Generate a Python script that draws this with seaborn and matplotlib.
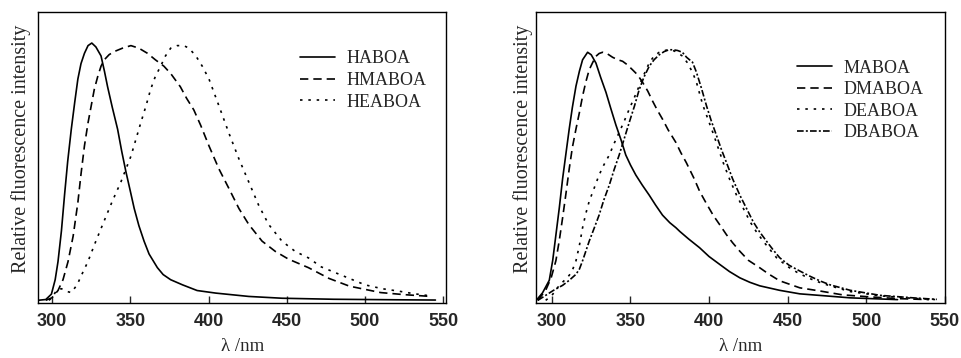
import numpy as np
import pandas as pd
import matplotlib
matplotlib.use("Agg")
import matplotlib.pyplot as plt
import seaborn as sns

# left panel: wavelength (nm) / relative intensity
haboa_x = [291, 296, 299.6, 302, 303.8, 306, 308, 310, 312.3, 314.5, 316.5, 318.5, 320.7, 323, 325.4, 328, 331.3,
           333.5, 335.5, 338.5, 341.9, 344.5, 347.2, 350, 352.5, 355.5, 358.8, 362, 367.3, 371, 375.8, 383.4,
           392.7, 404.6, 425.7, 447, 480, 520, 545]
haboa_y = [0, 0.003, 0.024, 0.08, 0.15, 0.27, 0.41, 0.54, 0.665, 0.77, 0.86, 0.92, 0.96, 0.99, 1.0, 0.985, 0.95,
           0.89, 0.83, 0.75, 0.665, 0.58, 0.50, 0.425, 0.357, 0.29, 0.23, 0.18, 0.127, 0.10, 0.08, 0.06,
           0.038, 0.028, 0.015, 0.008, 0.004, 0.002, 0.001]

hmaboa_x = [296, 300, 303.8, 307, 310.2, 313.5, 316.5, 318.5, 320.7, 323, 325, 327, 329.2, 331.3, 333.4, 336.5,
            339.8, 345, 350.4, 355.5, 361, 366, 371.5, 376, 382, 386, 390.6, 395, 400.3, 406.7, 413, 419.4, 425.7,
            434.2, 442.7, 451.1, 463.8, 477, 490, 510, 525, 542]
hmaboa_y = [0, 0.01, 0.038, 0.08, 0.15, 0.25, 0.38, 0.49, 0.60, 0.69, 0.755, 0.82, 0.87, 0.91, 0.935, 0.955,
            0.967, 0.98, 0.99, 0.98, 0.96, 0.935, 0.91, 0.88, 0.83, 0.785, 0.74, 0.68, 0.60, 0.51, 0.435, 0.357,
            0.295, 0.23, 0.19, 0.16, 0.127, 0.085, 0.055, 0.03, 0.022, 0.015]

heaboa_x = [298, 300, 303, 306, 309, 312.3, 316, 319, 322.9, 328, 333.4, 338.5, 344, 350.4, 356.7, 360, 363, 366,
            369.4, 372.5, 375.8, 380, 384.2, 387.5, 391.9, 396, 400.3, 406.7, 413, 419.4, 425.7, 432, 438.4,
            446.9, 455.4, 463.8, 472, 480, 490, 500, 511, 521, 532, 542]
heaboa_y = [0, 0.01, 0.04, 0.045, 0.035, 0.03, 0.06, 0.10, 0.15, 0.23, 0.31, 0.385, 0.46, 0.56, 0.69, 0.755, 0.82,
            0.87, 0.91, 0.95, 0.98, 0.99, 0.99, 0.98, 0.95, 0.91, 0.86, 0.755, 0.65, 0.55, 0.46, 0.37, 0.295,
            0.23, 0.19, 0.165, 0.13, 0.11, 0.085, 0.06, 0.045, 0.036, 0.025, 0.017]

# right panel
maboa_x = [290, 294, 298.3, 300.5, 302.5, 304.7, 306.8, 309, 311, 313, 315.3, 317.5, 319.5, 322.7, 325, 328, 331,
           334.4, 337.5, 340.7, 344, 347, 350, 353.4, 357.5, 361.9, 366, 370.4, 375, 378.9, 381.4, 387, 394, 400,
           406.9, 413, 419.6, 426, 432.3, 445, 457.8, 470, 490, 520]
maboa_y = [0, 0.03, 0.08, 0.16, 0.26, 0.37, 0.486, 0.59, 0.684, 0.77, 0.855, 0.915, 0.96, 0.99, 0.98, 0.947, 0.89,
           0.83, 0.765, 0.70, 0.64, 0.58, 0.54, 0.50, 0.46, 0.42, 0.38, 0.34, 0.31, 0.29, 0.275, 0.245, 0.21,
           0.175, 0.143, 0.115, 0.09, 0.072, 0.058, 0.04, 0.026, 0.02, 0.01, 0.003]

dmaboa_x = [291, 296, 299.5, 302.5, 304.7, 306.8, 309, 311, 313, 315.3, 317.5, 319.5, 321.5, 323.7, 326, 328, 330,
            332.2, 335, 338.6, 342, 345, 348, 351.3, 354.5, 357.7, 361, 364, 367, 370.4, 374, 378.9, 382, 385.5,
            390.5, 394.1, 398, 402.6, 407, 411.1, 415, 419.6, 425, 432.3, 438, 445, 457.8, 470, 485, 500, 520, 540]
dmaboa_y = [0, 0.04, 0.09, 0.158, 0.24, 0.33, 0.43, 0.525, 0.61, 0.684, 0.75, 0.815, 0.87, 0.92, 0.95, 0.974,
            0.985, 0.99, 0.985, 0.97, 0.96, 0.954, 0.94, 0.92, 0.90, 0.87, 0.835, 0.796, 0.76, 0.723, 0.68, 0.63,
            0.59, 0.55, 0.486, 0.434, 0.39, 0.34, 0.30, 0.262, 0.23, 0.196, 0.16, 0.13, 0.105, 0.078, 0.05, 0.038,
            0.022, 0.015, 0.007, 0.003]

deaboa_x = [296, 300, 304.7, 308, 311, 313, 315.3, 317.5, 319.5, 321.5, 323.7, 327, 330, 333, 336.5, 339.5, 342.8,
            346, 349.2, 352.5, 355.5, 358.5, 361.9, 365, 368.3, 371.5, 374.6, 378, 383.1, 386, 389.5, 392, 396,
            399.5, 403, 406, 409, 413, 417.5, 422, 426, 430, 434.5, 443, 450, 456, 463, 468.5, 477, 490, 509, 530,
            545]
deaboa_y = [0, 0.02, 0.06, 0.08, 0.10, 0.12, 0.158, 0.22, 0.29, 0.345, 0.395, 0.45, 0.50, 0.54, 0.58, 0.625, 0.67,
            0.715, 0.763, 0.81, 0.855, 0.90, 0.947, 0.975, 0.99, 0.997, 1.0, 0.995, 0.975, 0.95, 0.91, 0.87, 0.78,
            0.72, 0.66, 0.605, 0.55, 0.485, 0.42, 0.365, 0.315, 0.275, 0.236, 0.17, 0.135, 0.112, 0.09, 0.076,
            0.058, 0.035, 0.018, 0.008, 0.003]

dbaboa_x = [291, 296, 301, 306.8, 311, 315.3, 317.5, 319.5, 321.5, 323.7, 327, 330, 333, 336.5, 339.5, 342.8, 346,
            349.2, 352.5, 355.5, 358.5, 361.9, 365, 368.3, 371.5, 374.6, 377.2, 380, 383, 385.7, 389.5, 392, 395,
            398.4, 401.5, 404.8, 408, 411.1, 415, 419.6, 424, 428, 432, 436.6, 441, 445, 451, 457.8, 464, 470.5,
            477, 490, 509, 530, 545]
dbaboa_y = [0, 0.02, 0.04, 0.06, 0.08, 0.104, 0.125, 0.158, 0.195, 0.236, 0.29, 0.34, 0.40, 0.46, 0.52, 0.58,
            0.645, 0.71, 0.775, 0.84, 0.89, 0.934, 0.96, 0.98, 0.993, 1.0, 1.0, 0.997, 0.99, 0.97, 0.95, 0.91,
            0.85, 0.776, 0.715, 0.657, 0.60, 0.55, 0.485, 0.42, 0.365, 0.315, 0.275, 0.236, 0.20, 0.17, 0.14,
            0.117, 0.097, 0.078, 0.062, 0.04, 0.02, 0.01, 0.004]

left_names = ["HABOA", "HMABOA", "HEABOA"]
right_names = ["MABOA", "DMABOA", "DEABOA", "DBABOA"]


def long_df(names, xs, ys):
    parts = []
    for n, x, y in zip(names, xs, ys):
        parts.append(pd.DataFrame({"wl": x, "I": y, "name": n}))
    return pd.concat(parts, ignore_index=True)


df_left = long_df(left_names, [haboa_x, hmaboa_x, heaboa_x], [haboa_y, hmaboa_y, heaboa_y])
df_right = long_df(right_names, [maboa_x, dmaboa_x, deaboa_x, dbaboa_x],
                   [maboa_y, dmaboa_y, deaboa_y, dbaboa_y])

sns.set_style("white")
plt.rcParams["font.family"] = ["Liberation Serif", "DejaVu Serif"]

# solid, dashed, dotted, dash-dot (in linewidth units)
dash_styles = ["", (5, 3), (1.5, 3.5), (4, 1.3, 1.2, 1.3)]

fig = plt.figure(figsize=(9.61, 3.58), dpi=100)
ax1 = fig.add_axes([0.0395, 0.154, 0.425, 0.812])
ax2 = fig.add_axes([0.558, 0.154, 0.425, 0.812])

for ax, df, names, xlim, ytop, leg_anchor, ylab_x in [
        (ax1, df_left, left_names, (291, 552), 1.12, (0.624, 0.893), -0.018),
        (ax2, df_right, right_names, (290, 550), 1.15, (0.62, 0.862), -0.009)]:
    sns.lineplot(data=df, x="wl", y="I", hue="name", style="name",
                 palette=["black"] * len(names), hue_order=names, style_order=names,
                 dashes=dict(zip(names, dash_styles[:len(names)])),
                 linewidth=1.2, ax=ax, estimator=None, sort=False)
    ax.set_xlim(*xlim)
    ax.set_ylim(-0.01, ytop)
    ax.set_xticks([300, 350, 400, 450, 500, 550])
    ax.set_yticks([])
    for lbl in ax.get_xticklabels():
        lbl.set_fontfamily("Liberation Sans")
        lbl.set_fontweight("bold")
        lbl.set_fontsize(13)
    ax.tick_params(axis="x", direction="in", length=5, width=1, pad=7, bottom=True)
    ax.set_xlabel("λ /nm", fontsize=13.5, labelpad=6)
    ax.set_ylabel("Relative fluorescence intensity", fontsize=14.5)
    ax.yaxis.set_label_coords(ylab_x, 0.53)
    for s in ax.spines.values():
        s.set_color("black")
        s.set_linewidth(1.0)
    ax.legend(frameon=False, loc="upper left", bbox_to_anchor=leg_anchor,
              fontsize=13, handlelength=1.95, handletextpad=0.65, labelspacing=0.25,
              borderaxespad=0)

fig.savefig("out.png", dpi=100)
